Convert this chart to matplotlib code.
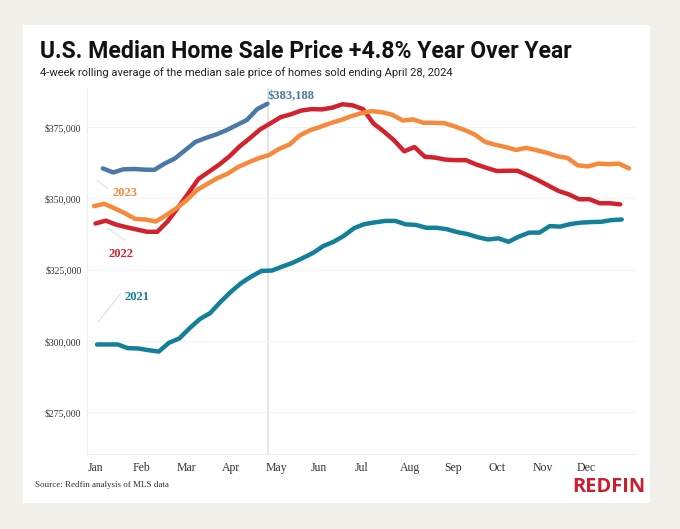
import matplotlib.pyplot as plt
from matplotlib.patches import Rectangle

# Weekly values, in thousands of dollars (4-week rolling median sale price)
# first week-ending day of year for each series
START_2021 = 2
START_2022 = 1
START_2023 = 0
START_2024 = 6

PRICES_2021 = [298.8, 298.8, 298.8, 297.5, 297.4, 296.8, 296.3, 299.4, 300.9, 304.5,
               307.7, 309.8, 313.7, 317.2, 320.3, 322.6, 324.6, 324.7, 326.1, 327.4,
               329.1, 330.9, 333.3, 334.8, 336.9, 339.6, 341.0, 341.6, 342.1, 342.1,
               340.9, 340.7, 339.7, 339.7, 339.2, 338.2, 337.5, 336.4, 335.6, 336.0,
               334.8, 336.6, 338.0, 338.0, 340.3, 340.1, 341.0, 341.5, 341.7, 341.8,
               342.4, 342.6]
PRICES_2022 = [341.2, 342.2, 340.8, 339.9, 339.1, 338.3, 338.3, 341.9, 346.7, 351.7,
               356.8, 359.3, 361.8, 364.7, 368.2, 371.1, 374.2, 376.3, 378.5, 379.5,
               380.8, 381.3, 381.2, 381.8, 383.0, 382.6, 381.3, 376.3, 373.5, 370.4,
               366.5, 368.0, 364.6, 364.3, 363.6, 363.4, 363.4, 361.9, 360.7, 359.6,
               359.7, 359.7, 358.1, 356.4, 354.5, 352.6, 351.4, 349.7, 349.7, 348.3,
               348.3, 347.9]
PRICES_2023 = [347.3, 348.1, 346.5, 344.8, 342.8, 342.6, 341.9, 344.1, 346.5, 349.4,
               352.9, 355.1, 357.1, 358.7, 361.0, 362.6, 364.1, 365.2, 367.4, 368.9,
               372.1, 373.9, 375.1, 376.4, 377.5, 378.8, 379.9, 380.6, 380.2, 379.3,
               377.3, 377.7, 376.5, 376.5, 376.4, 375.3, 374.0, 372.4, 369.8, 368.8,
               368.0, 367.0, 367.7, 366.9, 366.0, 364.8, 364.2, 361.6, 361.2, 362.2,
               362.0, 362.2, 360.5]
PRICES_2024 = [360.5, 359.1, 360.2, 360.3, 360.1, 360.0, 362.2, 364.0, 366.9, 369.8,
               371.2, 372.4, 373.9, 375.7, 377.5, 381.3, 383.188]

MONTHS = ['Jan', 'Feb', 'Mar', 'Apr', 'May', 'Jun', 'Jul', 'Aug', 'Sep', 'Oct', 'Nov', 'Dec']
MONTH_DAYS = [1, 32, 63, 93, 124, 153, 182, 215, 244, 274, 305, 335]
Y_TICKS = [275, 300, 325, 350, 375]

COLORS = {'2021': '#13809a', '2022': '#d2222e', '2023': '#f7893b', '2024': '#4a78a7'}
SERIF = 'Liberation Serif'


# turn a weekly series into (day of year, dollars)
def weekly(start, values):
    days = [start + 7 * i for i in range(len(values))]
    dollars = [v * 1000 for v in values]
    return days, dollars


def main():
    fig = plt.figure(figsize=(6.8, 5.29), dpi=100)
    fig.patch.set_facecolor('#f2f0eb')
    # white card behind everything
    fig.patches.append(Rectangle((23 / 680, 1 - 503 / 529), 627 / 680, 478 / 529,
                                 transform=fig.transFigure, facecolor='white',
                                 edgecolor='none', zorder=-5))

    ax = fig.add_axes([87 / 680, 75 / 529, 548 / 680, 366 / 529])
    ax.set_zorder(2)
    ax.set_facecolor('white')

    for year, start, values in [('2021', START_2021, PRICES_2021),
                                ('2022', START_2022, PRICES_2022),
                                ('2023', START_2023, PRICES_2023),
                                ('2024', START_2024, PRICES_2024)]:
        x, y = weekly(start, values)
        ax.plot(x, y, color=COLORS[year], linewidth=3.2, solid_capstyle='round',
                solid_joinstyle='round', zorder=3)

    # marker for the latest week
    last_day = START_2024 + 7 * (len(PRICES_2024) - 1)
    ax.axvline(last_day, color='#e2e2e2', linewidth=1.2, zorder=1)

    ax.set_xlim(-4.8, 368)
    ax.set_ylim(260400, 388700)
    ax.set_yticks([t * 1000 for t in Y_TICKS])
    ax.set_yticklabels(['${:,}'.format(t * 1000) for t in Y_TICKS],
                       fontfamily=SERIF, fontsize=7, color='#333333')
    ax.set_xticks(MONTH_DAYS)
    ax.set_xticklabels(MONTHS, fontfamily=SERIF, fontsize=8.5, color='#333333')
    ax.tick_params(length=0, pad=4)
    ax.tick_params(axis='x', pad=6)
    ax.grid(axis='y', color='#f3f3f3', linewidth=0.8, zorder=0)
    for side in ['top', 'right']:
        ax.spines[side].set_visible(False)
    for side in ['left', 'bottom']:
        ax.spines[side].set_color('#eeeeee')
        ax.spines[side].set_linewidth(0.8)

    # series labels with small leader lines
    ax.text(last_day, PRICES_2024[-1] * 1000 + 2700, '${:,}'.format(int(PRICES_2024[-1] * 1000)),
            color=COLORS['2024'], fontfamily=SERIF, fontweight='bold', fontsize=9,
            ha='left', va='center')
    ax.text(12.5, 352000, '2023', color=COLORS['2023'], fontfamily=SERIF,
            fontweight='bold', fontsize=9, ha='left', va='center')
    ax.text(10, 330400, '2022', color=COLORS['2022'], fontfamily=SERIF,
            fontweight='bold', fontsize=9, ha='left', va='center')
    ax.text(21, 315300, '2021', color=COLORS['2021'], fontfamily=SERIF,
            fontweight='bold', fontsize=9, ha='left', va='center')
    ax.plot([2, 9], [356300, 353500], color='#e3e3e3', linewidth=0.9, zorder=1)
    ax.plot([9, 21], [339600, 335400], color='#e3e3e3', linewidth=0.9, zorder=1)
    ax.plot([3, 18], [306800, 316600], color='#e3e3e3', linewidth=0.9, zorder=1)

    fig.text(40 / 680, 1 - 52 / 529, 'U.S. Median Home Sale Price +4.8% Year Over Year',
             fontfamily='Roboto', fontweight='bold', fontsize=16.6, color='#111111',
             ha='left', va='center')
    fig.text(40 / 680, 1 - 73 / 529,
             '4-week rolling average of the median sale price of homes sold ending April 28, 2024',
             fontfamily='Roboto', fontsize=8, color='#222222', ha='left', va='center')
    fig.text(35 / 680, 1 - 485 / 529, 'Source: Redfin analysis of MLS data',
             fontfamily=SERIF, fontsize=6.5, color='#333333', ha='left', va='center')
    fig.text(645 / 680, 1 - 487 / 529, 'REDFIN', fontfamily='Open Sans',
             fontweight='bold', fontsize=14.5, color='#c8202f', ha='right', va='center')

    fig.savefig('out.png', dpi=100, facecolor=fig.get_facecolor())


if __name__ == "__main__":
    main()
